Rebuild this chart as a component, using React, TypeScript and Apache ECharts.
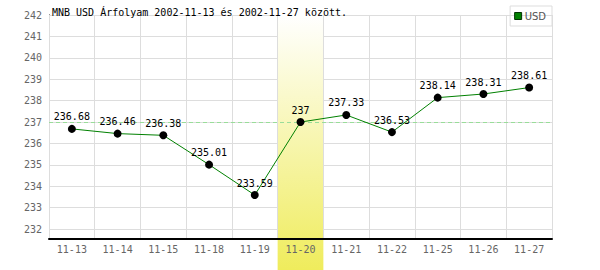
import React, { useEffect, useRef } from "react";
import * as echarts from "echarts";

const categories = ["11-13", "11-14", "11-15", "11-18", "11-19", "11-20", "11-21", "11-22", "11-25", "11-26", "11-27"];
const usdValues = [236.68, 236.46, 236.38, 235.01, 233.59, 237, 237.33, 236.53, 238.14, 238.31, 238.61];
const yTicks = [232, 233, 234, 235, 236, 237, 238, 239, 240, 241, 242];
const highlightCategory = "11-20";
const referenceValue = 237;
const titleText = "MNB USD Árfolyam 2002-11-13 és 2002-11-27 között.";

const MONO = "'DejaVu Sans Mono', monospace";

export default function App() {
  const ref = useRef<HTMLDivElement>(null);
  useEffect(() => {
    if (!ref.current) return;
    const chart = echarts.init(ref.current, undefined, { renderer: "svg" });
    const gridLeft = 49;
    const gridRight = 48;
    const gridTop = 15;
    const gridBottom = 31.7;
    chart.setOption({
      animation: false,
      backgroundColor: "#ffffff",
      title: {
        text: titleText,
        left: 52,
        top: 7,
        padding: 0,
        textStyle: { fontFamily: MONO, fontSize: 10, fontWeight: "normal", color: "#000" },
      },
      legend: {
        right: 48,
        top: 6,
        orient: "vertical",
        borderColor: "#dddddd",
        borderWidth: 1,
        padding: [5, 6, 5, 4],
        itemWidth: 7,
        itemHeight: 7,
        itemGap: 2,
        textStyle: { fontFamily: "'DejaVu Sans', sans-serif", fontSize: 10, color: "#555", padding: [0, 0, 0, -2] },
        data: [
          {
            name: "USD",
            icon: "rect",
            itemStyle: { color: "#008000", borderColor: "#003300", borderWidth: 1 },
          },
        ],
      },
      grid: { left: gridLeft, right: gridRight, top: gridTop, bottom: gridBottom, containLabel: false },
      xAxis: {
        type: "category",
        data: categories,
        boundaryGap: true,
        z: 3,
        axisLine: { show: true, lineStyle: { color: "#000", width: 2 } },
        axisTick: { show: false },
        axisLabel: { fontFamily: MONO, fontSize: 10, color: "#666", margin: 6, interval: 0 },
        splitLine: { show: true, interval: 0, lineStyle: { color: "#dddddd", width: 1 } },
      },
      yAxis: {
        type: "value",
        min: 231.57,
        max: 242,
        z: 0,
        axisLine: { show: true, lineStyle: { color: "#000", width: 1 } },
        axisTick: { show: false, customValues: yTicks },
        axisLabel: { fontFamily: MONO, fontSize: 10, color: "#666", margin: 7, customValues: yTicks },
        splitLine: { show: true, lineStyle: { color: "#dddddd", width: 1 } },
      },
      series: [
        {
          name: "ref",
          type: "line",
          data: [],
          z: 0,
          silent: true,
          markLine: {
            silent: true,
            symbol: ["none", "none"],
            label: { show: false },
            lineStyle: { color: "#99dd99", type: [4, 3], width: 1 },
            data: [{ yAxis: referenceValue }],
          },
        },
        {
          name: "USD",
          type: "line",
          data: usdValues,
          z: 5,
          symbol: "circle",
          symbolSize: 8,
          itemStyle: { color: "#000" },
          lineStyle: { color: "#008000", width: 1 },
          label: {
            show: true,
            position: "top",
            distance: 3,
            fontFamily: MONO,
            fontSize: 10,
            color: "#000",
          },
        },
      ],
    });
    const cx = chart.convertToPixel({ xAxisIndex: 0 }, highlightCategory) as number;
    const bw = (600 - gridLeft - gridRight) / categories.length;
    chart.setOption({
      graphic: [
        {
          type: "rect",
          z: 1,
          silent: true,
          shape: { x: cx - bw / 2, y: gridTop, width: bw, height: 270 - gridTop },
          style: {
            fill: new echarts.graphic.LinearGradient(0, 0, 0, 1, [
              { offset: 0, color: "#ffffff" },
              { offset: 1, color: "#efec5c" },
            ]),
          },
        },
      ],
    });
    return () => chart.dispose();
  }, []);
  return <div ref={ref} style={{ position: "fixed", left: 0, top: 0, width: 600, height: 270 }} />;
}
